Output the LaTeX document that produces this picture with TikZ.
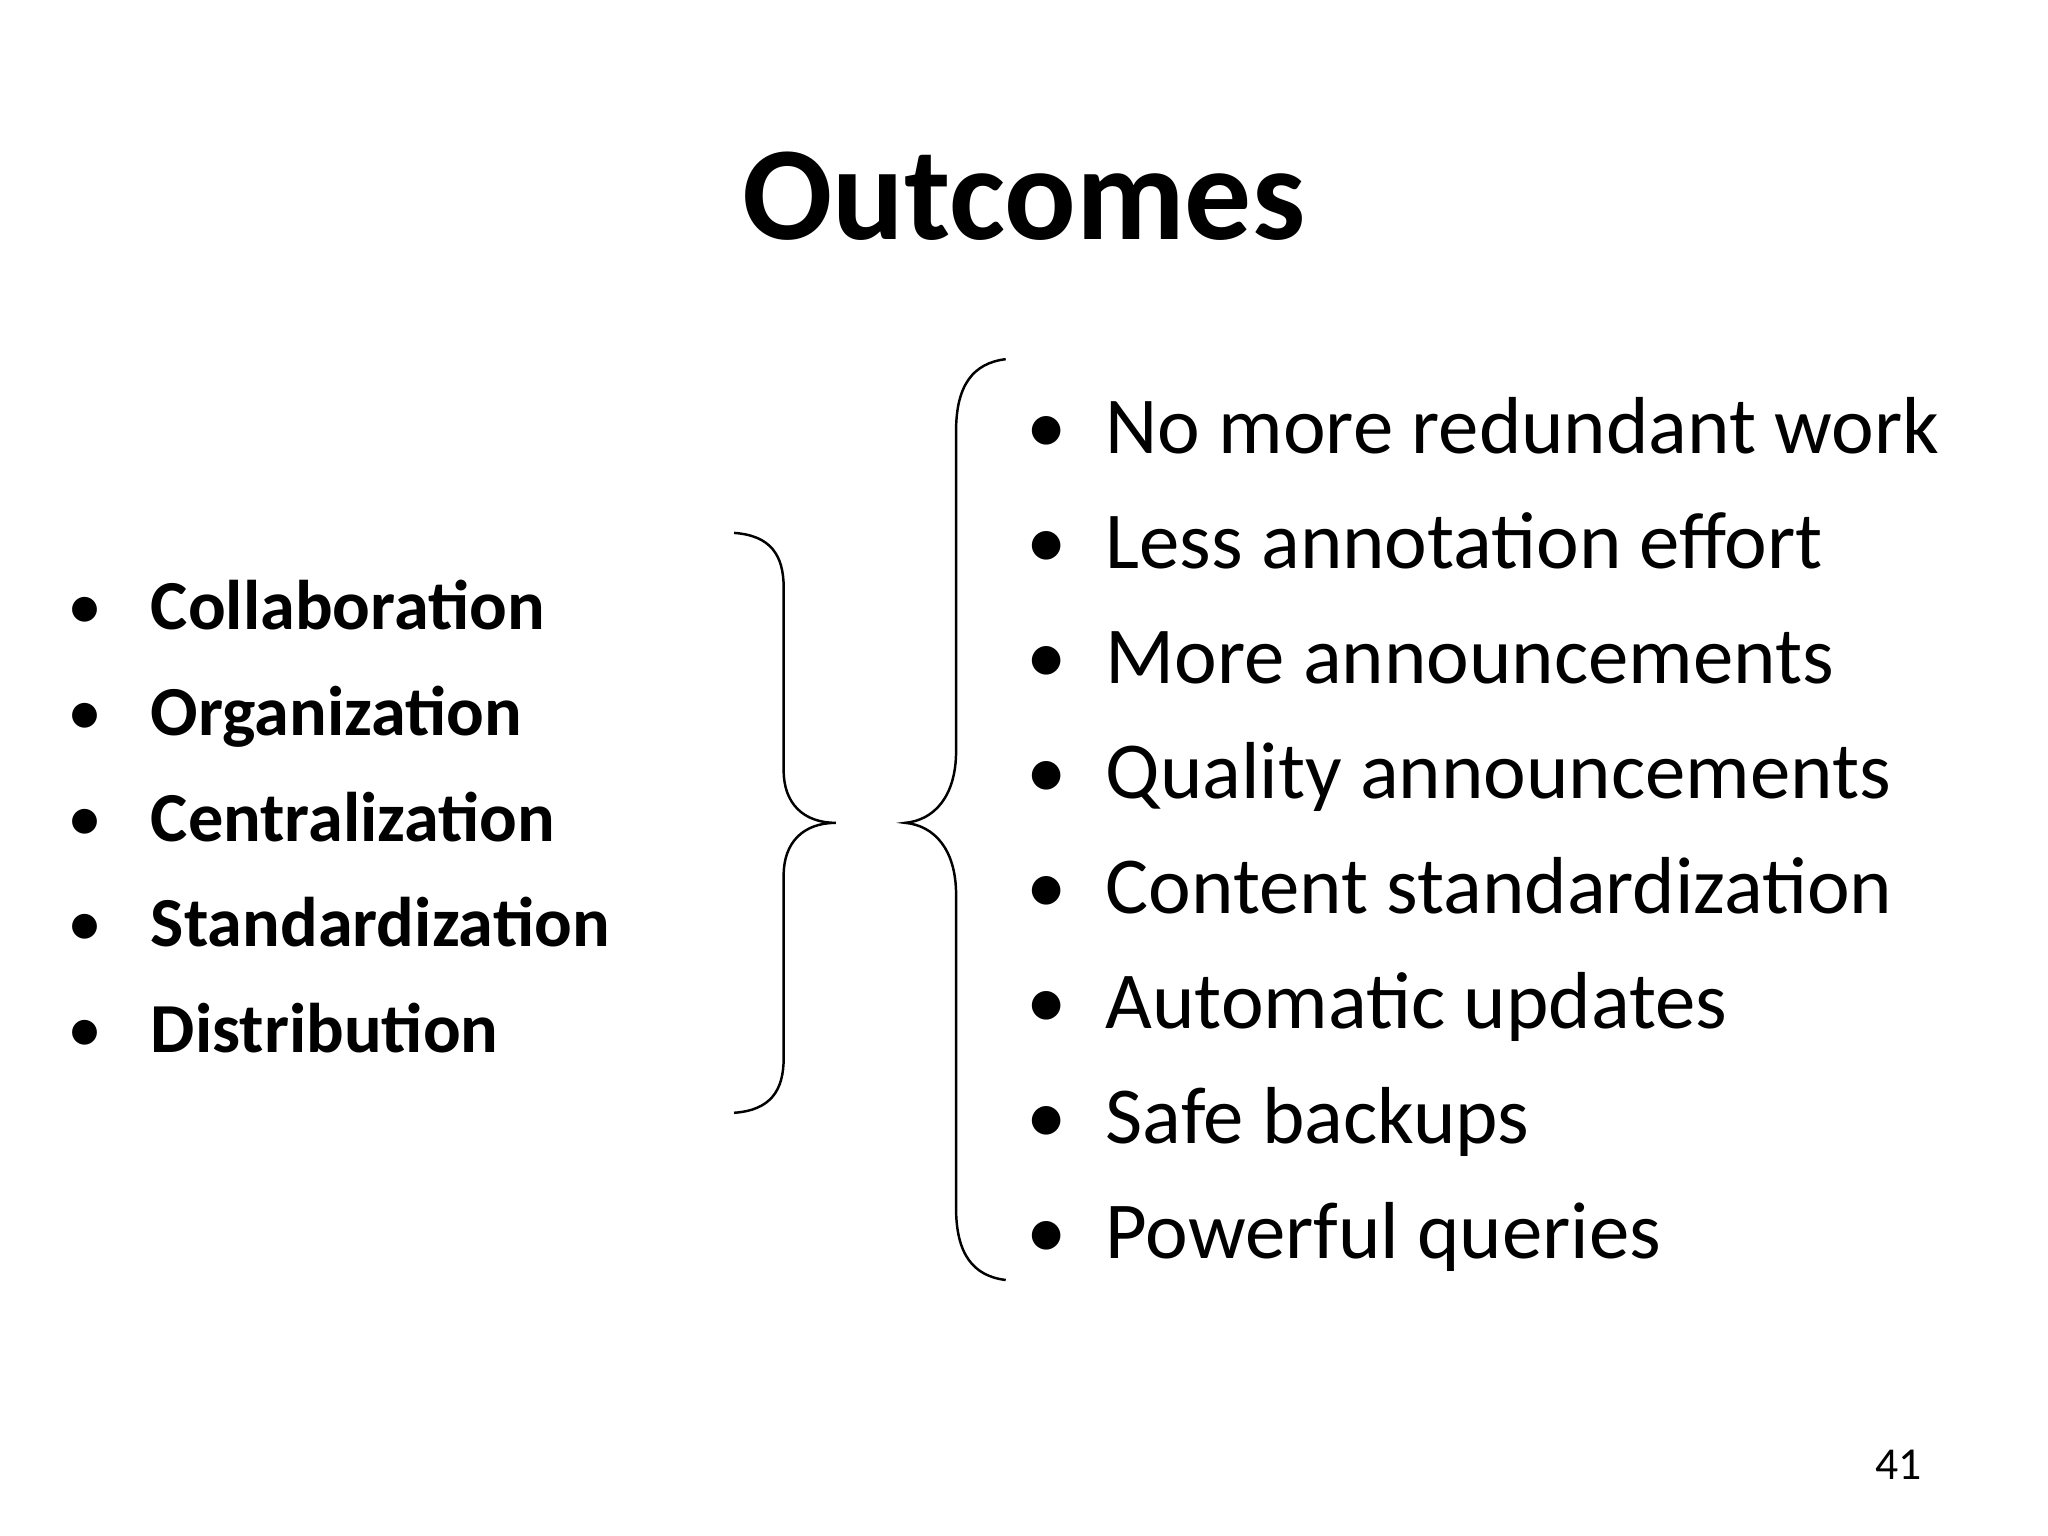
\documentclass[tikz,border=0pt]{standalone}
\usepackage{fontspec}
\setmainfont{Carlito}
\begin{document}
\begin{tikzpicture}[x=0.01306cm,y=-0.01306cm,
  lt/.style={anchor=base west,inner sep=0pt,font=\fontsize{20}{24}\selectfont\bfseries},
  rt/.style={anchor=base west,inner sep=0pt,font=\fontsize{23}{28}\selectfont},
  bl/.style={anchor=base,inner sep=0pt},
  br/.style={line width=0.7pt}]
\useasboundingbox (0,0) rectangle (1568,1176);
\node[anchor=base,inner sep=0pt,font=\fontsize{38}{44}\selectfont\bfseries] (title) at (784,183) {Outcomes};
\foreach \t [count=\i] in {Collaboration,Organization,Centralization,Standardization,Distribution}{
  \node[lt] (l\i) at (115,{482+(\i-1)*81}) {\t};
  \node[bl,font=\fontsize{20}{24}\selectfont] (lb\i) at (65,{482+(\i-1)*81}) {•};
}
\foreach \t [count=\i] in {No more redundant work,Less annotation effort,More announcements,Quality announcements,Content standardization,Automatic updates,Safe backups,Powerful queries}{
  \node[rt] (r\i) at (846,{347+(\i-1)*88.1}) {\t};
  \node[bl,font=\fontsize{23}{28}\selectfont] (rb\i) at (801,{347+(\i-1)*88.1}) {•};
}
\draw[br] (562,408) .. controls (590,410) and (600,425) .. (600,450) -- (600,590)
  .. controls (600,615) and (615,630) .. (640,630)
  .. controls (615,630) and (600,645) .. (600,670) -- (600,810)
  .. controls (600,835) and (590,850) .. (562,852);
\draw[br] (770,275) .. controls (745,278) and (732,295) .. (732,330) -- (732,575)
  .. controls (732,610) and (715,628) .. (693,630)
  .. controls (715,632) and (732,650) .. (732,685) -- (732,925)
  .. controls (732,960) and (745,977) .. (770,980);
\node[anchor=base east,inner sep=0pt,font=\fontsize{13}{15}\selectfont] (num) at (1472,1133) {41};
\end{tikzpicture}
\end{document}
